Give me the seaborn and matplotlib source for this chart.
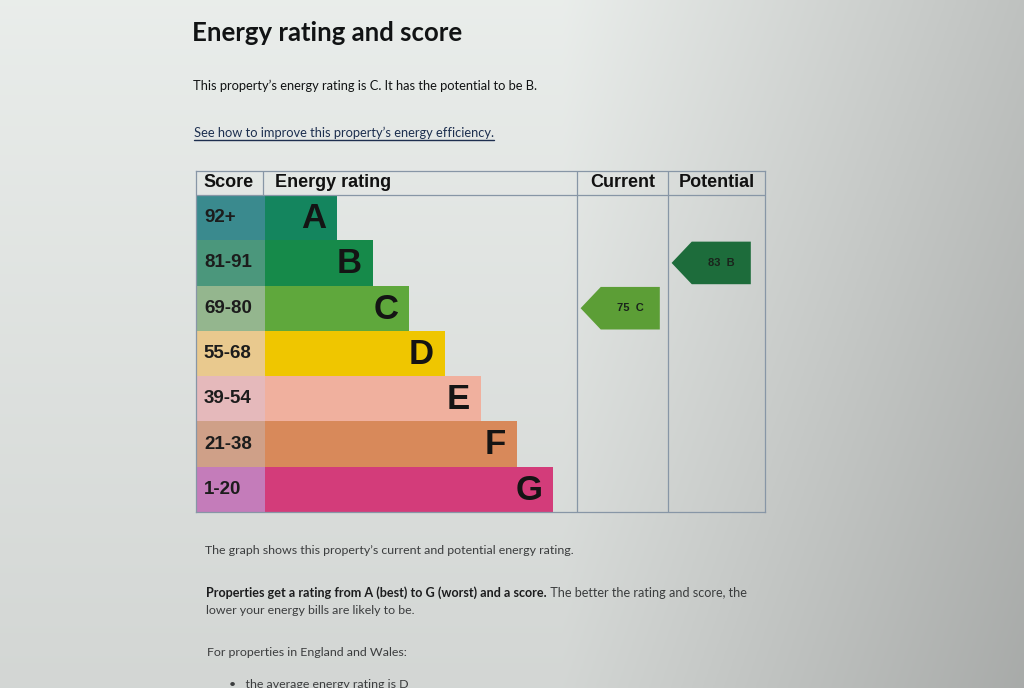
import numpy as np
import pandas as pd
import matplotlib
matplotlib.use("Agg")
import matplotlib.pyplot as plt
from matplotlib.patches import Polygon
from matplotlib.lines import Line2D
import seaborn as sns

# data
bands = ["A", "B", "C", "D", "E", "F", "G"]
score_ranges = ["92+", "81-91", "69-80", "55-68", "39-54", "21-38", "1-20"]
band_floor = [92, 81, 69, 55, 39, 21, 1]
bar_len = [2, 3, 4, 5, 6, 7, 8]
band_colors = ["#14855e", "#168a4a", "#5fa83c", "#efc600", "#f0b09e", "#d8895a", "#d33c7a"]
score_colors = ["#3a8a8e", "#4b977c", "#94b68e", "#e9c98e", "#e5b9bb", "#cfa088", "#c47cba"]
headers = ["Score", "Energy rating", "Current", "Potential"]
current_score = 75
potential_score = 83
arrow_colors = {"current": "#5c9e36", "potential": "#1d6c3b"}


def band_of(score):
    for i, lo in enumerate(band_floor):
        if score >= lo:
            return i
    return len(bands) - 1


sns.set_theme(style="white")
plt.rcParams["font.family"] = ["Lato", "DejaVu Sans"]

W, H = 1024, 688
fig = plt.figure(figsize=(W / 100, H / 100), dpi=100)


def py(y):
    return 1 - y / H


# photographed screen background
bg = fig.add_axes([0, 0, 1, 1], zorder=-5)
xx, yy = np.meshgrid(np.linspace(0, 1, 256), np.linspace(0, 1, 256))
shade = 0.93 - 0.17 * np.clip((xx - 0.55) / 0.45, 0, 1) - 0.09 * yy
bg.imshow(np.dstack([shade * 0.985, shade, shade * 0.99]), aspect="auto", extent=[0, 1, 0, 1])
bg.axis("off")

# table area
left, right, top, bottom = 196, 765, 171, 512
ax = fig.add_axes([left / W, 1 - bottom / H, (right - left) / W, (bottom - top) / H])
ax.patch.set_alpha(0)
unit = 36.0
x0 = (left - 265) / unit
x1 = (right - 265) / unit
cur_x = (577 - 265) / unit
pot_x = (668 - 265) / unit
header_h = 24 / 45.3

df = pd.DataFrame({"band": bands, "length": bar_len})
sns.barplot(data=df, x="length", y="band", hue="band", order=bands,
            palette=dict(zip(bands, band_colors)), saturation=1, width=1.0, linewidth=0,
            legend=False, orient="h", ax=ax)
ax.barh(range(len(bands)), width=-x0, left=x0, height=1.0, color=score_colors, linewidth=0)

for i in range(len(bands)):
    ax.text(x0 + 0.22, i, score_ranges[i], ha="left", va="center", fontsize=13.5,
            fontweight="bold", family="Liberation Sans", color="#1c1c1c")
    ax.text(bar_len[i] - 0.3, i + 0.02, bands[i], ha="right", va="center", fontsize=25,
            fontweight="bold", family="Liberation Sans", color="#141414")

hy = -0.5 - header_h / 2
ax.text(x0 + 0.22, hy, headers[0], ha="left", va="center", fontsize=13, fontweight="bold",
        family="Liberation Sans", color="#111")
ax.text(0.28, hy, headers[1], ha="left", va="center", fontsize=13, fontweight="bold",
        family="Liberation Sans", color="#111")
ax.text((cur_x + pot_x) / 2, hy, headers[2], ha="center", va="center", fontsize=13,
        fontweight="bold", family="Liberation Sans", color="#111")
ax.text((pot_x + x1) / 2, hy, headers[3], ha="center", va="center", fontsize=13,
        fontweight="bold", family="Liberation Sans", color="#111")

line_c = "#8796a6"
ax.plot([x0, x1], [-0.5, -0.5], color=line_c, lw=0.9)
ax.plot([-0.05, -0.05], [-0.5 - header_h, -0.5], color=line_c, lw=0.9)
for xv in (cur_x, pot_x):
    ax.plot([xv, xv], [-0.5 - header_h, 6.5], color=line_c, lw=0.9)


def arrow(col_left, score, color):
    i = band_of(score)
    xl, xr, tip, hh = col_left + 0.1, col_left + 2.3, 0.56, 0.47
    pts = [(xl, i), (xl + tip, i - hh), (xr, i - hh), (xr, i + hh), (xl + tip, i + hh)]
    ax.add_patch(Polygon(pts, closed=True, facecolor=color, edgecolor="none"))
    ax.text((xl + tip + xr) / 2, i, f"{score}  {bands[i]}", ha="center", va="center",
            fontsize=8, fontweight="bold", family="Liberation Sans", color="#1a241c")


arrow(cur_x, current_score, arrow_colors["current"])
arrow(pot_x, potential_score, arrow_colors["potential"])

ax.set_xlim(x0, x1)
ax.set_ylim(6.5, -0.5 - header_h)
ax.set_xticks([])
ax.set_yticks([])
ax.set_xlabel("")
ax.set_ylabel("")
for s in ax.spines.values():
    s.set_color(line_c)
    s.set_linewidth(0.9)

# page text
ink = "#111314"
fig.text(192 / W, py(33), "Energy rating and score", fontsize=18.5, fontweight="bold",
         va="center", color=ink)
fig.text(193 / W, py(86), "This property’s energy rating is C. It has the potential to be B.",
         fontsize=9.3, va="center", color=ink)
link = fig.text(194 / W, py(133), "See how to improve this property’s energy efficiency.",
                fontsize=9.3, va="center", color="#1d2f4f")

grey = "#3b3d3e"
fs = 8.95
fig.text(205 / W, py(551), "The graph shows this property’s current and potential energy rating.",
         fontsize=fs, va="center", color=grey)
bold_part = fig.text(206 / W, py(593), "Properties get a rating from A (best) to G (worst) and a score.",
                     fontsize=9.1, fontweight="bold", va="center", color="#1c1d1e")
fig.text(206 / W, py(610), "lower your energy bills are likely to be.", fontsize=fs,
         va="center", color=grey)
fig.text(207 / W, py(652), "For properties in England and Wales:", fontsize=fs,
         va="center", color=grey)
fig.text(229 / W, py(684), "•   the average energy rating is D", fontsize=fs,
         va="center", color=grey)

fig.canvas.draw()
r = fig.canvas.get_renderer()
bb = bold_part.get_window_extent(r)
fig.text(bb.x1 / W, py(593), " The better the rating and score, the", fontsize=9.1,
         va="center", color=grey)
lb = link.get_window_extent(r)
fig.add_artist(Line2D([lb.x0 / W, lb.x1 / W], [py(140), py(140)], color="#1d2f4f", lw=1.0))

fig.savefig("out.png", dpi=100)
